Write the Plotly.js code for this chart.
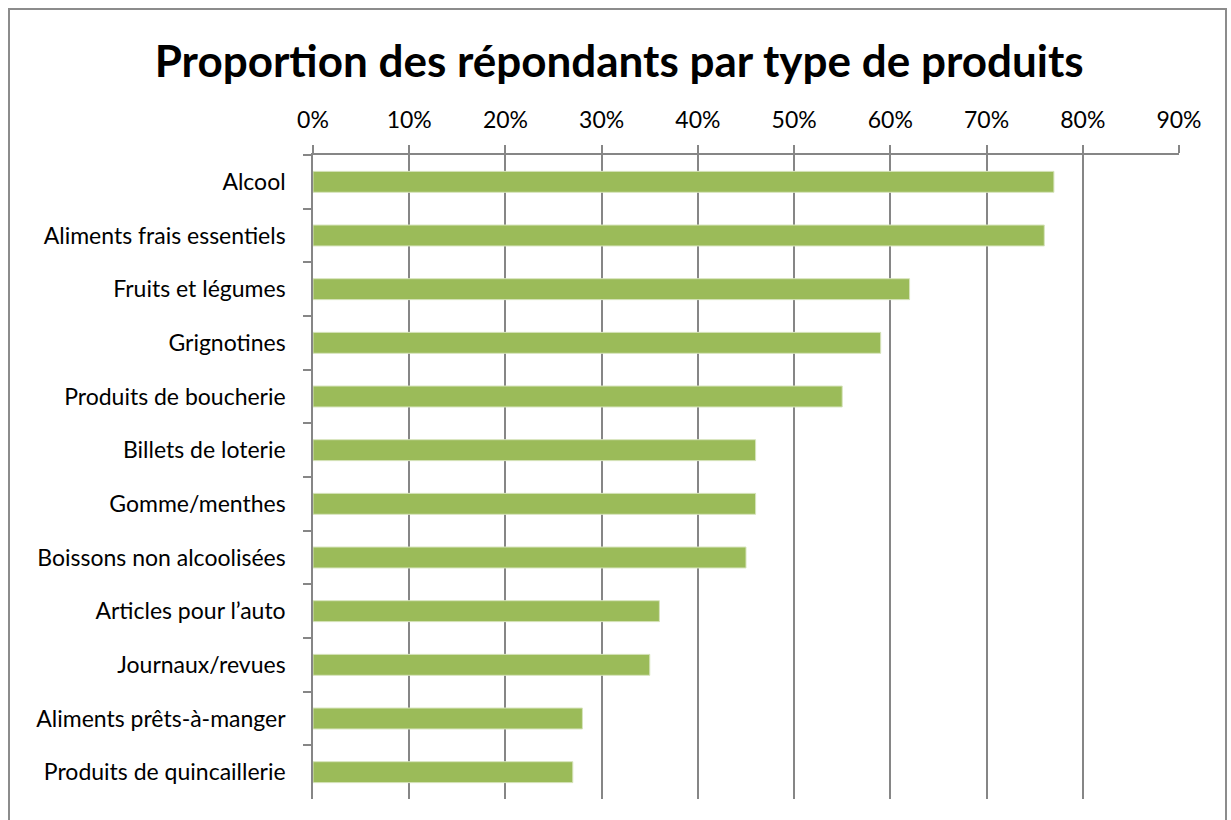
<!DOCTYPE html>
<html>
<head>
<meta charset="utf-8">
<script src="https://cdn.plot.ly/plotly-3.0.1.min.js"></script>
<style>
  html, body { margin: 0; padding: 0; background: #ffffff; }
  #frame {
    position: absolute; left: 8px; top: 8px; width: 1219px; height: 830px;
    border: 2px solid #8c8c8c; box-sizing: border-box;
  }
  #chart { position: absolute; left: 0; top: 0; width: 1231px; height: 820px; }
</style>
</head>
<body>
<div id="frame"></div>
<div id="chart"></div>
<script>
// Product categories (top to bottom)
const categories = [
    'Alcool',
    'Aliments frais essentiels',
    'Fruits et légumes',
    'Grignotines',
    'Produits de boucherie',
    'Billets de loterie',
    'Gomme/menthes',
    'Boissons non alcoolisées',
    'Articles pour l\u2019auto',
    'Journaux/revues',
    'Aliments prêts-à-manger',
    'Produits de quincaillerie'
];

// Share of respondents
const shares = [0.77, 0.76, 0.62, 0.59, 0.55, 0.46, 0.46, 0.45, 0.36, 0.35, 0.28, 0.27];

// X tick values
const tickValues = [0, 0.1, 0.2, 0.3, 0.4, 0.5, 0.6, 0.7, 0.8, 0.9];
const tickLabels = ['0%', '10%', '20%', '30%', '40%', '50%', '60%', '70%', '80%', '90%'];

const fontFamily = 'Lato, "Open Sans", sans-serif';

const trace = {
    type: 'bar',
    orientation: 'h',
    x: shares,
    y: categories,
    width: 0.39,
    marker: {
        color: '#9bbb59',
        line: { color: '#d7e4bd', width: 1 }
    },
    hoverinfo: 'x+y'
};

const layout = {
    width: 1231,
    height: 820,
    paper_bgcolor: 'rgba(0,0,0,0)',
    plot_bgcolor: 'rgba(0,0,0,0)',
    margin: { t: 155, r: 52, b: 21, l: 313 },
    font: { family: fontFamily, color: '#000000', size: 23 },
    title: {
        text: '<b>Proportion des répondants par type de produits</b>',
        font: { family: fontFamily, size: 44, color: '#000000' },
        x: 0.503,
        xanchor: 'center',
        y: 0.925,
        yanchor: 'middle'
    },
    showlegend: false,
    bargap: 0.6,
    xaxis: {
        side: 'top',
        range: [0, 0.9],
        tickvals: tickValues,
        ticktext: tickLabels,
        ticks: 'outside',
        ticklen: 8,
        tickcolor: '#868686',
        tickwidth: 1.5,
        showgrid: true,
        gridcolor: '#868686',
        gridwidth: 1.5,
        showline: true,
        linecolor: '#868686',
        linewidth: 1.5,
        zeroline: false,
        ticklabelstandoff: 8,
        tickfont: { family: fontFamily, size: 23, color: '#000000' },
        fixedrange: true
    },
    yaxis: {
        type: 'category',
        categoryorder: 'array',
        categoryarray: categories,
        autorange: 'reversed',
        ticks: 'outside',
        tickson: 'boundaries',
        ticklen: 8,
        tickcolor: '#868686',
        tickwidth: 1.5,
        showgrid: false,
        showline: true,
        linecolor: '#868686',
        linewidth: 1.5,
        zeroline: false,
        ticklabelstandoff: 21,
        tickfont: { family: fontFamily, size: 23, color: '#000000' },
        fixedrange: true
    }
};

Plotly.newPlot('chart', [trace], layout, { displayModeBar: false, responsive: false });
</script>
</body>
</html>
